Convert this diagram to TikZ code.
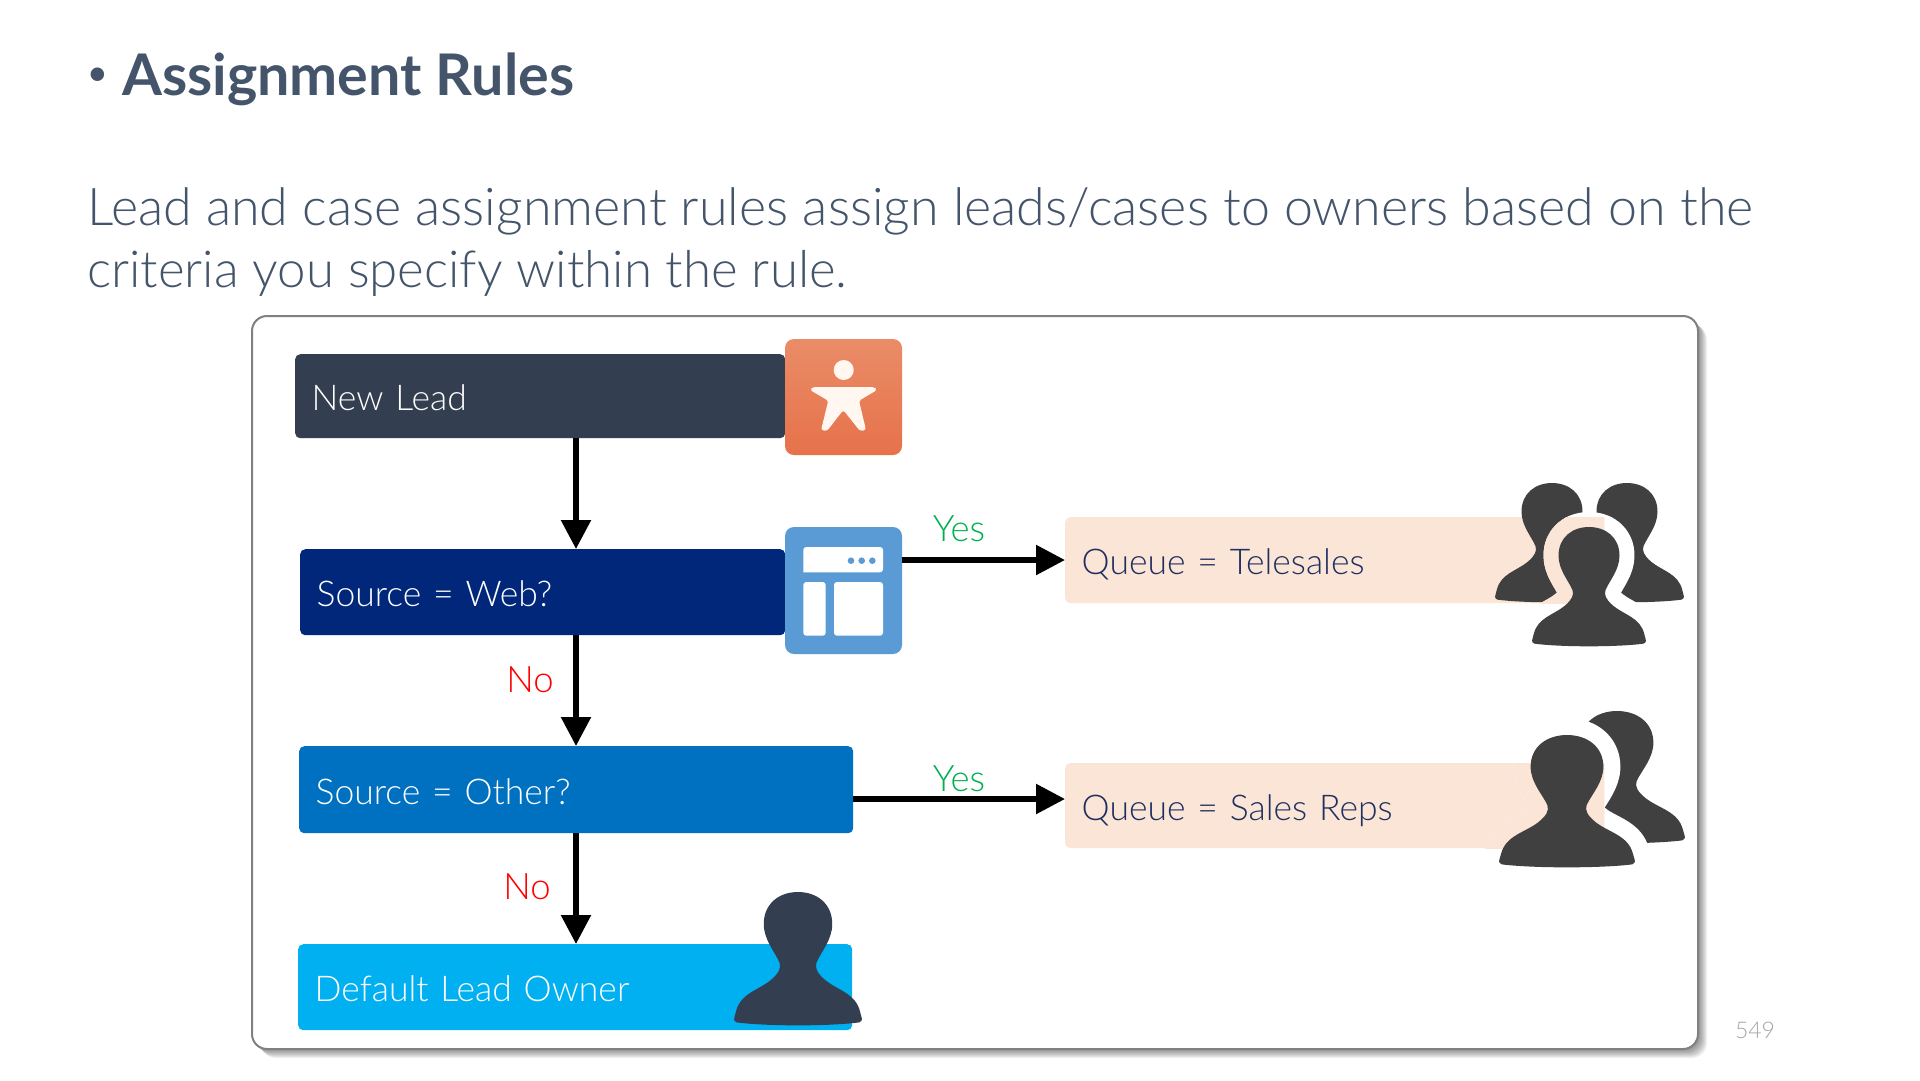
\documentclass[tikz,border=0pt]{standalone}
\usepackage{fontspec}
\setmainfont{Lato}[UprightFont={* Light},BoldFont={* Bold}]
\usetikzlibrary{arrows.meta,calc}
\definecolor{slate}{HTML}{44546A}
\definecolor{darkbox}{HTML}{333F50}
\definecolor{navybox}{HTML}{00277A}
\definecolor{midbox}{HTML}{0070C0}
\definecolor{skybox}{HTML}{00B0F0}
\definecolor{peach}{HTML}{FBE5D6}
\definecolor{figgray}{HTML}{404040}
\definecolor{yesgreen}{HTML}{00B050}
\definecolor{queuetext}{HTML}{1F2F5F}
\definecolor{iconblue}{HTML}{5B9BD5}
\definecolor{orangetop}{HTML}{EA8C68}
\definecolor{orangebot}{HTML}{E6724A}
\newcommand{\personpath}{(0,0) .. controls (0.30,0) and (0.535,0.09) .. (0.535,0.24) .. controls (0.535,0.36) and (0.36,0.45) .. (0.29,0.53) .. controls (0.26,0.57) and (0.30,0.61) .. (0.42,0.66) .. controls (0.62,0.74) and (0.90,0.76) .. (0.97,0.90) .. controls (1.0,0.96) and (1.02,0.96) .. (0.96,0.98) .. controls (0.5,1.01) and (-0.5,1.01) .. (-0.96,0.98) .. controls (-1.02,0.96) and (-1.0,0.96) .. (-0.97,0.90) .. controls (-0.90,0.76) and (-0.62,0.74) .. (-0.42,0.66) .. controls (-0.30,0.61) and (-0.26,0.57) .. (-0.29,0.53) .. controls (-0.36,0.45) and (-0.535,0.36) .. (-0.535,0.24) .. controls (-0.535,0.09) and (-0.30,0) .. (0,0) -- cycle}
\tikzset{
  box/.style={anchor=north west,rounded corners=5pt,inner xsep=16.5pt,inner ysep=0pt,align=left,text height=29pt,text depth=0pt,font=\fontsize{35.5}{35.5}\selectfont},
  flowline/.style={line width=5.5pt,draw=black,-{Triangle[length=29pt,width=29pt]}},
  lbl/.style={font=\fontsize{36.5}{36.5}\selectfont},
  bodytext/.style={anchor=west,inner sep=0pt,text=slate},
}
\begin{document}
\begin{tikzpicture}[x=1pt,y=-1pt]
\useasboundingbox (0,0) rectangle (1920,1080);
\fill[white] (0,0) rectangle (1920,1080);
% text
\node[anchor=west,inner sep=0pt,text=slate,font=\fontsize{46}{46}\selectfont] (bullet) at (84,78) {•};
\node[anchor=west,inner sep=0pt,text=slate,font=\fontsize{57.4}{57.4}\selectfont\bfseries] (title) at (122,79) {Assignment Rules};
\node[bodytext,font=\fontsize{52}{52}\selectfont] (line1) at (87,211) {Lead and case assignment rules assign leads/cases to owners based on the};
\node[bodytext,font=\fontsize{51}{51}\selectfont] (line2) at (87,273) {criteria you specify within the rule.};
% frame shadow
\foreach \d in {1,...,9}{
  \fill[black,opacity=.055,rounded corners=15pt] (252+\d,316+\d) rectangle (1698+\d,1049+\d);
}
\draw[draw=gray,line width=2pt,fill=white,rounded corners=15pt] (252,316) rectangle (1698,1049);
% boxes
\node[box,fill=darkbox,text=white,text width=457pt,minimum height=84pt] (newlead) at (295,354) {New Lead};
\node[box,fill=navybox,text=white,text width=452pt,minimum height=86pt] (web) at (300,549) {Source = Web?};
\node[box,fill=midbox,text=white,text width=521pt,minimum height=87pt] (other) at (299,746) {Source = Other?};
\node[box,fill=skybox,text=white,text width=521pt,minimum height=86pt] (deflt) at (298,944) {Default Lead Owner};
\node[box,fill=peach,text=queuetext,text width=506pt,minimum height=86pt] (tele) at (1065,517) {Queue = Telesales};
\node[box,fill=peach,text=queuetext,text width=506pt,minimum height=85pt] (reps) at (1065,763) {Queue = Sales Reps};
% orange icon
\shade[top color=orangetop,bottom color=orangebot,rounded corners=9pt] (785,339) rectangle (902,455);
\fill[white!94!orange] (843.7,370) circle (10);
\fill[white!94!orange,rounded corners=2.5pt] (813,387) -- (874,387) -- (877,390) -- (859,400.7) -- (866,430) -- (860,431) -- (843.3,410) -- (827,431) -- (821,430) -- (828.3,400.7) -- (810,390) -- cycle;
% blue icon
\fill[iconblue,rounded corners=9pt] (785,527) rectangle (902,654);
\fill[white,rounded corners=3pt] (803.3,572.3) -- (803.3,547) -- (883,547) -- (883,572.3) [sharp corners] -- cycle;
\fill[iconblue] (851,560.7) circle (3.3) (861.7,560.7) circle (3.3) (872.3,560.7) circle (3.3);
\fill[white,rounded corners=3pt] (803.3,582) -- (825.7,582) -- (825.7,635.7) -- (803.3,635.7) -- cycle;
\fill[white,rounded corners=3pt] (834,582) -- (883,582) -- (883,635.7) -- (834,635.7) -- cycle;
% connectors
\coordinate (axis) at (576,0);
\draw[flowline] (axis |- newlead.south) -- (axis |- web.north);
\draw[flowline] (axis |- web.south) -- (axis |- other.north);
\draw[flowline] (axis |- other.south) -- (axis |- deflt.north);
\coordinate (webright) at (902,560);
\draw[flowline] (webright) -- (webright -| tele.west);
\coordinate (otherright) at (853,799);
\draw[flowline] (otherright) -- (otherright -| reps.west);
% labels
\node[lbl,text=yesgreen] (yes1) at (959,529) {Yes};
\node[lbl,text=yesgreen] (yes2) at (959,779) {Yes};
\node[lbl,text=red] (no1) at (530,680) {No};
\node[lbl,text=red] (no2) at (527,887) {No};
\node[text=black!35,font=\fontsize{23}{23}\selectfont] (pagenum) at (1755,1030) {549};
% default person
\fill[darkbox,shift={(798,892)},xscale=64,yscale=133] \personpath;
% telesales people
\fill[figgray,shift={(1552,483)},xscale=57,yscale=119] \personpath;
\fill[figgray,shift={(1627,483)},xscale=57,yscale=119] \personpath;
\path[draw=white,fill=white,line width=30pt,line join=round,shift={(1589,527)},xscale=57,yscale=119] \personpath;
\begin{scope}
\clip (tele.north west) rectangle (tele.south east);
\path[draw=peach,fill=peach,line width=30pt,line join=round,shift={(1589,527)},xscale=57,yscale=119] \personpath;
\end{scope}
\fill[figgray,shift={(1589,527)},xscale=57,yscale=119] \personpath;
% sales reps people
\fill[figgray,shift={(1617,711)},xscale=68,yscale=132] \personpath;
\path[draw=white,fill=white,line width=34pt,line join=round,shift={(1567,735)},xscale=68,yscale=132] \personpath;
\begin{scope}
\clip (reps.north west) rectangle (reps.south east);
\path[draw=peach,fill=peach,line width=34pt,line join=round,shift={(1567,735)},xscale=68,yscale=132] \personpath;
\end{scope}
\fill[figgray,shift={(1567,735)},xscale=68,yscale=132] \personpath;
\end{tikzpicture}
\end{document}
